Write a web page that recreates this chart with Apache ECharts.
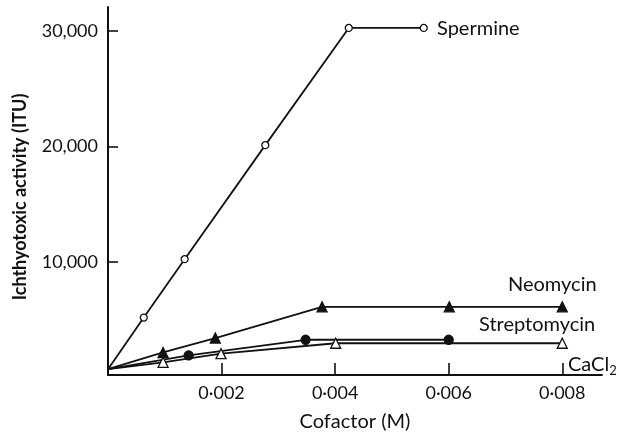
<!DOCTYPE html>
<html><head><meta charset="utf-8">
<script src="https://cdn.jsdelivr.net/npm/echarts@6/dist/echarts.min.js"></script>
<style>html,body{margin:0;padding:0;background:#fff}#c{width:619px;height:437px}</style>
</head><body><div id="c"></div>
<script>
const spermineX = [0, 0.00063, 0.00135, 0.00277, 0.00424, 0.00556];
const spermineY = [700, 5170, 10230, 20100, 30250, 30250];
const neomycinX = [0, 0.00097, 0.00189, 0.00377, 0.00601, 0.008];
const neomycinY = [700, 2150, 3400, 6100, 6100, 6100];
const streptoX = [0, 0.00142, 0.00348, 0.006];
const streptoY = [700, 1900, 3250, 3250];
const cacl2X = [0, 0.00097, 0.00199, 0.00401, 0.008];
const cacl2Y = [700, 1300, 2050, 2950, 2950];
const xTicks = [0.002, 0.004, 0.006, 0.008];
const yTicks = [10000, 20000, 30000];

const FONT = 'Lato';
function pts(xs, ys) {
  return xs.map((x, i) => i === 0 ? {value: [x, ys[i]], symbol: 'none'} : [x, ys[i]]);
}
function ser(name, xs, ys, symbol, size, fill) {
  return {
    name, type: 'line', data: pts(xs, ys), symbol, symbolSize: size,
    lineStyle: {color: '#111', width: 1.8},
    itemStyle: {color: fill, borderColor: '#111', borderWidth: 1.3},
    animation: false, z: 3
  };
}
const chart = echarts.init(document.getElementById('c'));
chart.setOption({
  backgroundColor: '#fff',
  animation: false,
  grid: {left: 108, right: 17, top: 7, bottom: 59},
  xAxis: {
    type: 'value', min: 0, max: 0.0087,
    name: 'Cofactor (M)', nameLocation: 'middle', nameGap: 37,
    nameTextStyle: {fontFamily: FONT, fontSize: 20, color: '#111'},
    axisLine: {show: true, lineStyle: {color: '#111', width: 2}},
    axisTick: {show: true, inside: true, length: 12, lineStyle: {color: '#111', width: 1.6}, customValues: xTicks},
    axisLabel: {customValues: xTicks, fontFamily: FONT, fontSize: 18, color: '#111', margin: 9,
      formatter: v => v.toFixed(3).replace('.', '\u00b7')},
    splitLine: {show: false}
  },
  yAxis: {
    type: 'value', min: 200, max: 32060,
    axisLine: {show: true, lineStyle: {color: '#111', width: 2}},
    axisTick: {show: true, inside: true, length: 10, lineStyle: {color: '#111', width: 1.6}, customValues: yTicks},
    axisLabel: {customValues: yTicks, fontFamily: FONT, fontSize: 18, color: '#111', margin: 10,
      formatter: v => v.toLocaleString('en-US')},
    splitLine: {show: false}
  },
  series: [
    ser('Spermine', spermineX, spermineY, 'circle', 7, '#fff'),
    ser('Neomycin', neomycinX, neomycinY, 'triangle', 10, '#111'),
    ser('Streptomycin', streptoX, streptoY, 'circle', 9, '#111'),
    ser('CaCl2', cacl2X, cacl2Y, 'triangle', 10, '#fff')
  ],
  graphic: [
    {type: 'text', x: 20, y: 197, rotation: Math.PI / 2,
      style: {text: 'Ichthyotoxic activity (ITU)', font: 'bold 18px Lato', fill: '#111', align: 'center', verticalAlign: 'middle'}},
    {type: 'text', x: 437, y: 29, style: {text: 'Spermine', font: '20px Lato', fill: '#111', verticalAlign: 'middle'}},
    {type: 'text', x: 508, y: 285, style: {text: 'Neomycin', font: '20px Lato', fill: '#111', verticalAlign: 'middle'}},
    {type: 'text', x: 479, y: 325, style: {text: 'Streptomycin', font: '20px Lato', fill: '#111', verticalAlign: 'middle'}},
    {type: 'text', x: 568, y: 352, style: {text: 'CaCl{s|2}', font: '20px Lato', fill: '#111',
      rich: {s: {fontSize: 13, fontFamily: FONT, verticalAlign: 'bottom', padding: [12, 0, 0, 0], fill: '#111'}}}}
  ]
});
</script></body></html>
